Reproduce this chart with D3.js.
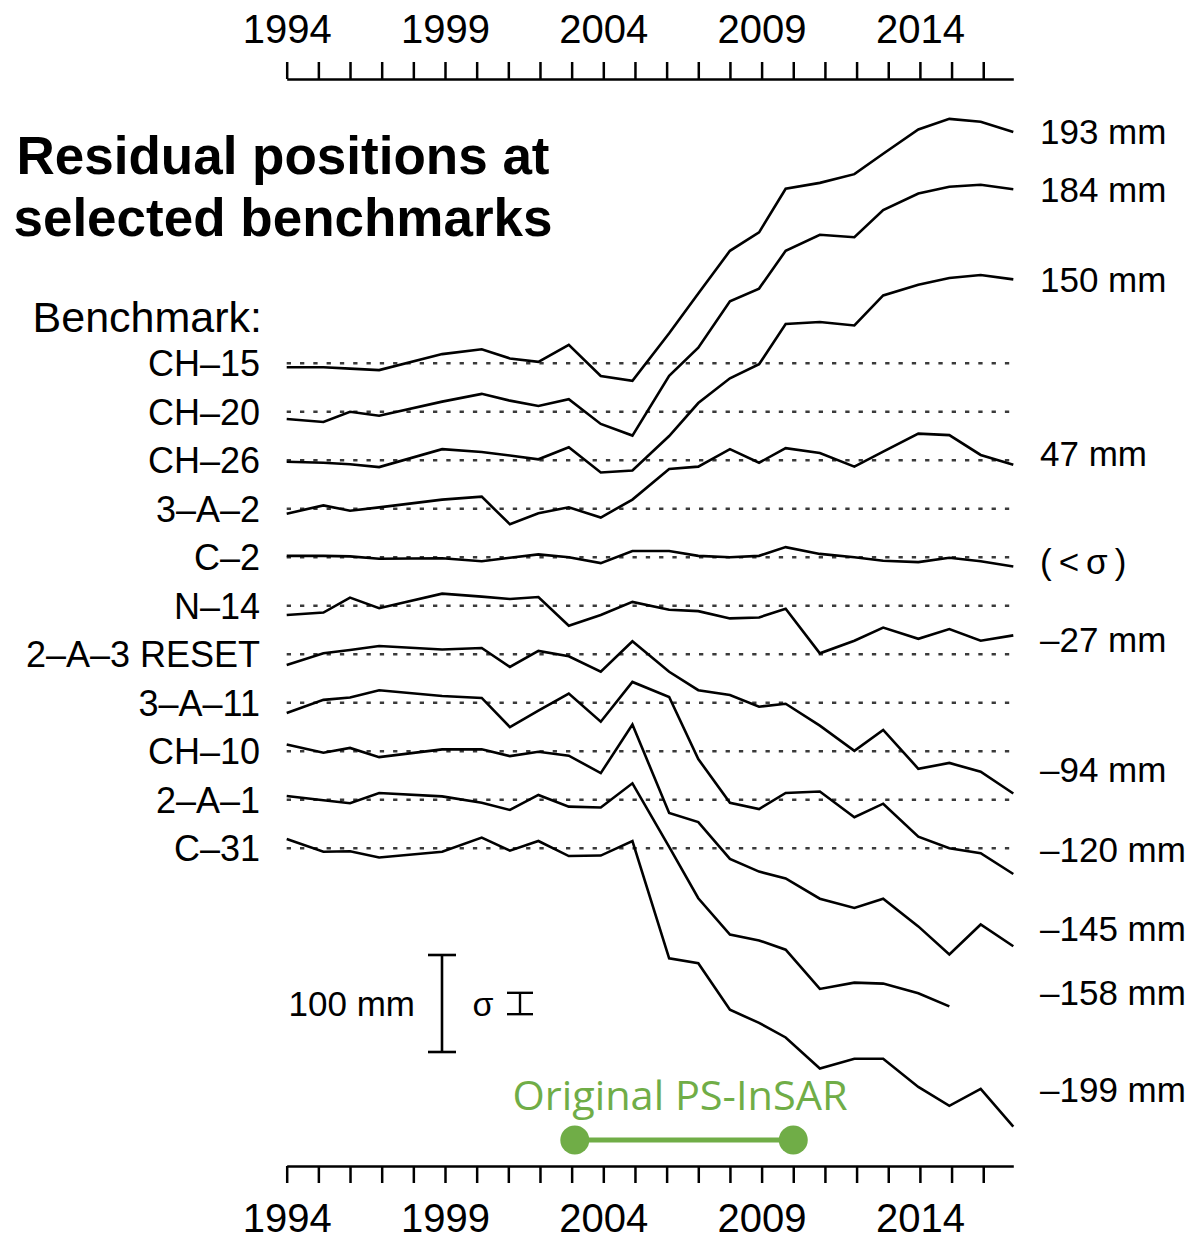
<!DOCTYPE html>
<html lang="en">
<head>
<meta charset="utf-8">
<title>Residual positions at selected benchmarks</title>
<script src="https://d3js.org/d3.v7.min.js"></script>
<style>
  body { margin: 0; background: #fff; }
  text { font-family: "Liberation Sans", Arial, Helvetica, sans-serif; fill: #000; }
</style>
</head>
<body>
<svg width="1196" height="1241"></svg>
<script>

// survey epochs (decimal years)
const epochs = [1994.0, 1995.16, 1996.0, 1996.92, 1998.91, 2000.16, 2001.05, 2001.95, 2002.91, 2003.92,
                2004.92, 2006.08, 2007.0, 2008.0, 2008.92, 2009.76, 2010.84, 2011.93, 2012.84, 2013.95,
                2014.93, 2015.92, 2016.95];

const benchmarks = ["CH\u201315", "CH\u201320", "CH\u201326", "3\u2013A\u20132", "C\u20132", "N\u201314",
                    "2\u2013A\u20133 RESET", "3\u2013A\u201311", "CH\u201310", "2\u2013A\u20131", "C\u201331"];

const endLabels = ["193 mm", "184 mm", "150 mm", "47 mm", "(\u2009<\u2009\u03c3\u2009)", "\u201327 mm",
                   "\u201394 mm", "\u2013120 mm", "\u2013145 mm", "\u2013158 mm", "\u2013199 mm"];
// where the end labels sit, in stacked mm
const endLabelPos = [239, 179, 87, -93, -204, -285, -419, -501, -583, -649, -749];

// residuals (mm) at each epoch
const ch15  = [-4, -4, -5.5, -7, 9.5, 14.5, 5, 1.5, 19, -13, -18, 31, 72, 116, 135, 180, 186, 195, 216, 241, 252, 249, 238.5];
const ch20  = [-7.5, -10.5, 0, -4, 10.5, 18.5, 11.5, 6, 13, -12.5, -24.5, 37, 66, 114, 127, 166, 182.5, 180, 208, 225, 232, 234, 229.5];
const ch26  = [-1.5, -2.5, -4, -7, 11.5, 8.5, 5, 1, 13.5, -12.5, -10.5, 25, 59, 84.5, 99, 140.5, 142.5, 139, 170, 181, 188, 191, 186.5];
const a3_2  = [-5, 3.5, -2, 1.5, 9.5, 12.5, -16, -4.5, 1.5, -9, 9.5, 41, 43.5, 61.5, 47.5, 62.5, 57.5, 43.5, 59, 77.5, 76, 55.5, 45.5];
const c2    = [1.5, 1.5, 1, -1.5, -1, -4, -0.5, 3, 0, -6, 6.5, 6.5, 1.5, 0, 1.5, 10.5, 3.5, 0, -3.5, -5, -0.5, -4, -9.5];
const n14   = [-9.5, -7, 8.5, -2.5, 12.5, 9.5, 7, 9, -20.5, -9.5, 4, -4, -5.5, -13, -12, -3, -49, -36, -22.5, -34, -24, -36, -30.5];
const a2_3  = [-11, 1, 4.5, 8.5, 5, 6.5, -13, 3.5, -2, -18, 13.5, -18, -37, -42, -54, -51, -73.5, -99.5, -78, -118, -112, -121, -143.5];
const a3_11 = [-10.5, 3, 5.5, 13, 7, 5, -25, -8, 9.5, -19.5, 21.5, 6, -58, -103, -109.5, -93, -91.5, -118, -104, -138, -150, -155, -176.5];
const ch10  = [7, -1.5, 3.5, -6, 2, 2, -5, -0.5, -4.5, -22.5, 27.5, -63.5, -73, -111, -124, -131, -152, -161.5, -152, -180.5, -209.5, -178.5, -201];
const a2_1  = [4, -0.5, -3.5, 7, 3.5, -3, -10.5, 5, -7, -8, 17, -48.5, -101.5, -139, -145, -154.5, -195, -188.5, -189.5, -199.5, -213, null, null];
const c31   = [9.5, -3.5, -3, -9.5, -3.5, 11, -2.5, 7.5, -8, -7.5, 7.5, -113.5, -118.5, -166.5, -180, -195, -227, -217, -217, -246, -265.5, -248, -287];

const series = [ch15, ch20, ch26, a3_2, c2, n14, a2_3, a3_11, ch10, a2_1, c31];

const rowStep = 50;     // mm between benchmark baselines
const sigma = 11;       // mm
const insarSpan = [2003.1, 2010.0];

const svg = d3.select("svg");
const green = "#70ad47";

const x = d3.scaleLinear().domain([1994, 2016.95]).range([286.7, 1013.3]);
const y = d3.scaleLinear().domain([-800, 300]).range([363.3 + 0.97 * 800, 363.3 - 0.97 * 300]);

// axes
const years = d3.range(1994, 2017);
const fmt = d => (d - 1994) % 5 === 0 ? d : "";

function styleAxis(g) {
    g.select(".domain").attr("stroke-width", 2.7);
    g.selectAll(".tick line").attr("stroke-width", 2.5);
    g.selectAll(".tick text").style("font-size", "40px");
}

svg.append("g")
    .attr("transform", "translate(0,79)")
    .call(d3.axisTop(x).tickValues(years).tickFormat(fmt).tickSize(17).tickSizeOuter(0).tickPadding(19))
    .call(styleAxis);

svg.append("g")
    .attr("transform", "translate(0,1166)")
    .call(d3.axisBottom(x).tickValues(years).tickFormat(fmt).tickSize(17).tickSizeOuter(0).tickPadding(21))
    .call(styleAxis);

// title
svg.append("text")
    .attr("x", 283).attr("y", 174)
    .attr("text-anchor", "middle")
    .style("font-size", "53px").style("font-weight", "bold")
    .text("Residual positions at");
svg.append("text")
    .attr("x", 283).attr("y", 236)
    .attr("text-anchor", "middle")
    .style("font-size", "53px").style("font-weight", "bold")
    .text("selected benchmarks");

svg.append("text")
    .attr("x", 262).attr("y", 332)
    .attr("text-anchor", "end")
    .style("font-size", "43px")
    .text("Benchmark:");

// dotted baselines
svg.selectAll("line.base")
    .data(benchmarks)
    .join("line")
    .attr("class", "base")
    .attr("x1", x(1994)).attr("x2", x(2016.95))
    .attr("y1", (d, i) => y(-rowStep * i))
    .attr("y2", (d, i) => y(-rowStep * i))
    .attr("stroke", "#3a3a3a")
    .attr("stroke-width", 2.5)
    .attr("stroke-dasharray", "4.3 9");

// benchmark names
svg.selectAll("text.name")
    .data(benchmarks)
    .join("text")
    .attr("class", "name")
    .attr("x", 260)
    .attr("y", (d, i) => y(-rowStep * i))
    .attr("dy", "0.36em")
    .attr("text-anchor", "end")
    .style("font-size", "36px")
    .text(d => d);

// residual lines
series.forEach((vals, i) => {
    const line = d3.line()
        .defined(d => d != null)
        .x((d, j) => x(epochs[j]))
        .y(d => y(d - rowStep * i));
    svg.append("path")
        .datum(vals)
        .attr("d", line)
        .attr("fill", "none")
        .attr("stroke", "#000")
        .attr("stroke-width", 2.6)
        .attr("stroke-linejoin", "miter");
});

// end labels
svg.selectAll("text.end")
    .data(endLabels)
    .join("text")
    .attr("class", "end")
    .attr("x", 1040)
    .attr("y", (d, i) => y(endLabelPos[i]))
    .attr("dy", "0.36em")
    .style("font-size", "35px")
    .text(d => d);

// 100 mm scale bar
const barX = 442, barTop = 955;
const barLen = y(0) - y(100);
const bar = svg.append("g").attr("stroke", "#000").attr("stroke-width", 2.6);
bar.append("line").attr("x1", barX).attr("x2", barX).attr("y1", barTop).attr("y2", barTop + barLen);
bar.append("line").attr("x1", barX - 14).attr("x2", barX + 14).attr("y1", barTop).attr("y2", barTop);
bar.append("line").attr("x1", barX - 14).attr("x2", barX + 14).attr("y1", barTop + barLen).attr("y2", barTop + barLen);

const midY = barTop + barLen / 2;
svg.append("text")
    .attr("x", 415).attr("y", midY).attr("dy", "0.36em")
    .attr("text-anchor", "end")
    .style("font-size", "35px")
    .text("100 mm");

svg.append("text")
    .attr("x", 483).attr("y", midY).attr("dy", "0.36em")
    .attr("text-anchor", "middle")
    .style("font-size", "34px")
    .text("\u03c3");

// sigma error bar
const sg = y(0) - y(sigma);
const sBar = svg.append("g").attr("stroke", "#000").attr("stroke-width", 2.4);
sBar.append("line").attr("x1", 520).attr("x2", 520).attr("y1", midY - sg).attr("y2", midY + sg);
sBar.append("line").attr("x1", 507).attr("x2", 533).attr("y1", midY - sg).attr("y2", midY - sg);
sBar.append("line").attr("x1", 507).attr("x2", 533).attr("y1", midY + sg).attr("y2", midY + sg);

// original PS-InSAR period
svg.append("text")
    .attr("x", 680).attr("y", 1110)
    .attr("text-anchor", "middle")
    .attr("textLength", 335)
    .attr("lengthAdjust", "spacingAndGlyphs")
    .style("font-family", "'Open Sans', 'Noto Sans', sans-serif")
    .style("font-size", "41px")
    .style("fill", green)
    .text("Original PS-InSAR");

svg.append("line")
    .attr("x1", x(insarSpan[0])).attr("x2", x(insarSpan[1]))
    .attr("y1", 1140).attr("y2", 1140)
    .attr("stroke", green)
    .attr("stroke-width", 5);

svg.selectAll("circle.insar")
    .data(insarSpan)
    .join("circle")
    .attr("class", "insar")
    .attr("cx", d => x(d))
    .attr("cy", 1140)
    .attr("r", 14.5)
    .attr("fill", green);

</script>
</body>
</html>
